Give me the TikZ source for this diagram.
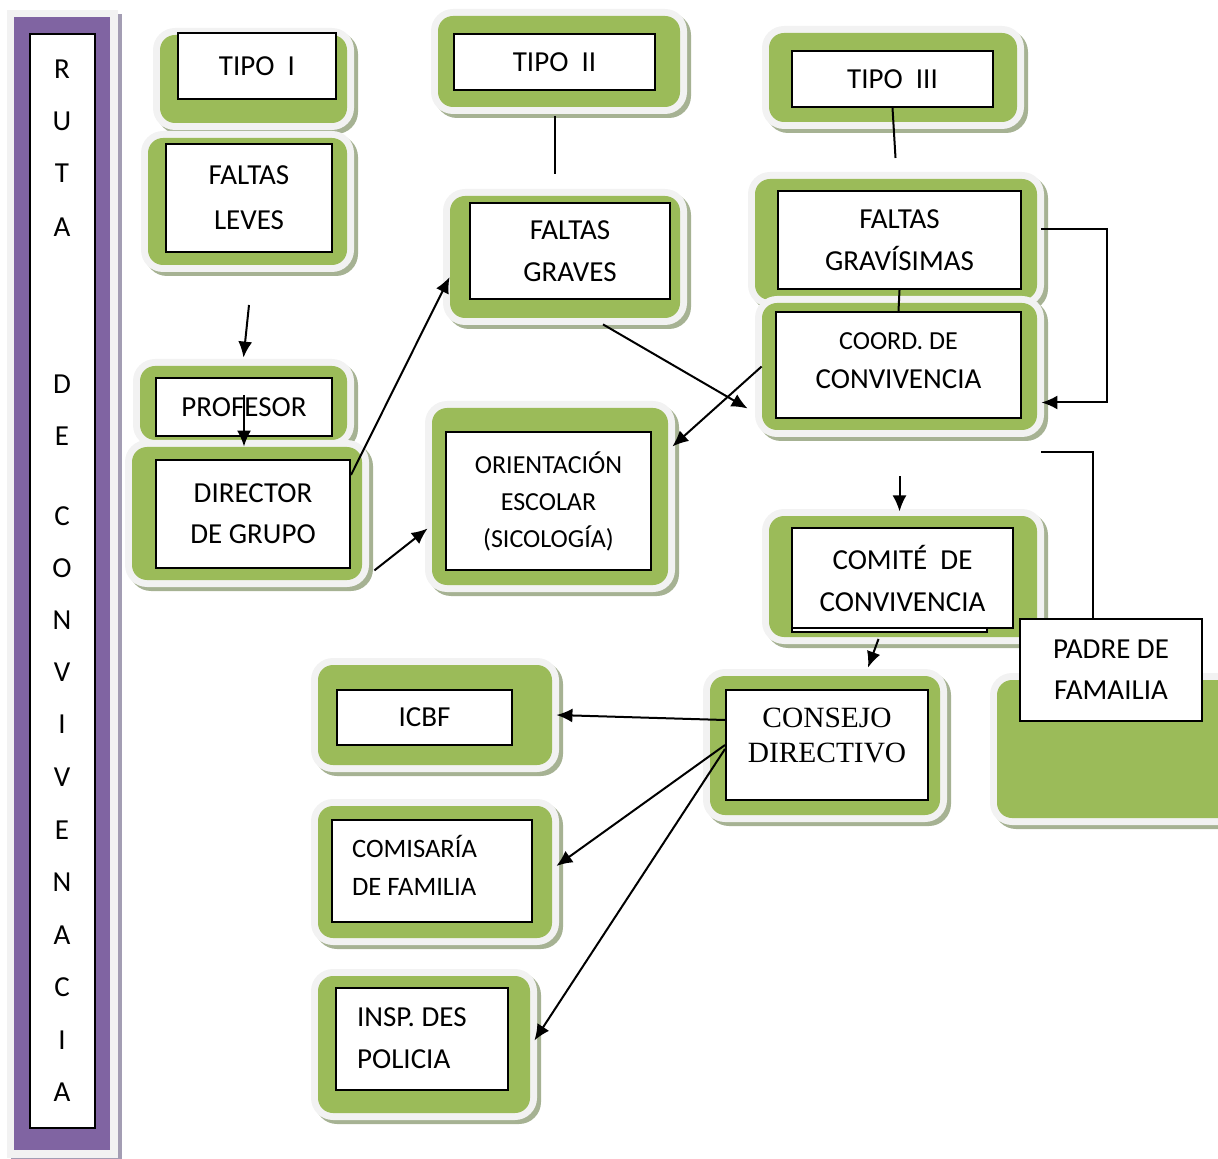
\documentclass[tikz,border=0pt]{standalone}
\usepackage{fontspec}
\setmainfont{Carlito}
\newfontfamily\serifface{Liberation Serif}
\usetikzlibrary{calc,fit,arrows.meta,positioning}
\definecolor{leafgreen}{HTML}{9BBB59}
\definecolor{rimgray}{HTML}{F2F2F2}
\definecolor{rimshadow}{HTML}{A6B293}
\definecolor{rutapurple}{HTML}{8064A2}
\definecolor{rutashadow}{HTML}{A39DB3}
\tikzset{
  greenpad/.style={fill=leafgreen, rounded corners=7.5pt, inner sep=0pt},
  wbox/.style 2 args={draw, fill=white, line width=1pt, inner sep=0pt, align=center,
    minimum width=#1, minimum height=#2, font=\fontsize{14.5}{21}\selectfont},
  letter/.style={inner sep=0pt, font=\fontsize{14.5}{17}\selectfont},
  arr/.style={-{Latex[length=8pt,width=7pt]}, line width=1pt},
  link/.style={line width=1pt},
}
% green panel with light rim and shadow: name, corner, corner
\newcommand{\panel}[3]{%
  \fill[rimshadow, rounded corners=11pt] ($(#2)+(-3,-3)$) rectangle ($(#3)+(11,11)$);
  \fill[rimgray, rounded corners=11pt] ($(#2)+(-7,-7)$) rectangle ($(#3)+(7,7)$);
  \node[greenpad, fit={(#2) (#3)}] (#1) {};
}
\begin{document}
\begin{tikzpicture}[x=0.5pt,y=-0.5pt]
\useasboundingbox (0,0) rectangle (1218,1159);
\clip (0,0) rectangle (1218,1159);

% left bar
\fill[rutashadow] (11,14) rectangle (122,1162);
\fill[rimgray] (7,10) rectangle (118,1158);
\fill[rutapurple] (14,17) rectangle (110,1150);
\node[wbox={32.5pt}{547pt}] (ruta) at (62.5,581) {};
\foreach \l/\y [count=\i] in {R/69,U/121,T/173,A/227,D/384,E/436,C/516,O/568,N/620,
    V/672,I/724,V/777,E/830,N/882,A/935,C/987,I/1040,A/1092}
  \node[letter] (ltr\i) at (62,\y) {\l};

% tipo I
\panel{gTipoI}{160,35}{347,123}
\node[wbox={79pt}{33pt}] (tipoI) at (257,66) {TIPO\ \ I};
\panel{gLeves}{148,138}{347,265}
\node[wbox={83pt}{54pt}, font=\fontsize{14.5}{22.5}\selectfont] (leves) at (249,198) {FALTAS\\LEVES};
\panel{gProfesor}{140,366}{347,440}
\node[wbox={88pt}{29pt}] (profesor) at (244,407) {PROFESOR};
\panel{gDirector}{132,447}{362,580}
\node[wbox={97pt}{54pt}, font=\fontsize{14.5}{20.5}\selectfont] (dirgrupo) at (253,514) {DIRECTOR\\DE GRUPO};

% tipo II
\panel{gTipoII}{438,16}{680,107}
\node[wbox={100.5pt}{28pt}] (tipoII) at (554.5,62) {TIPO\ \ II};
\panel{gGraves}{450,196}{680,318}
\node[wbox={100pt}{48pt}] (graves) at (570,251) {FALTAS\\GRAVES};
\panel{gOrient}{432,408}{668,585}
\node[wbox={102.5pt}{69pt}, font=\fontsize{13}{18.5}\selectfont] (orient) at (548.5,501) {ORIENTACIÓN\\ESCOLAR\\(SICOLOGÍA)};

% tipo III
\panel{gTipoIII}{769,33}{1017,122}
\node[wbox={100.5pt}{28pt}] (tipoIII) at (892.5,79) {TIPO\ \ III};
\panel{gGravisimas}{755,179}{1037,300}
\node[wbox={121.5pt}{49pt}] (gravisimas) at (899.5,240) {FALTAS\\GRAVÍSIMAS};
\panel{gCoord}{762,303}{1037,430}
\node[wbox={122.5pt}{53pt}, font=\fontsize{14.5}{19.5}\selectfont,
  label={[name=coordtxt, align=center, yshift=2pt, font=\fontsize{14.5}{19.5}\selectfont]center:{\fontsize{13}{19.5}\selectfont COORD. DE}\\CONVIVENCIA}] (coord) at (898.5,365) {};
\panel{gComite}{769,516}{1037,637}
\draw[fill=white, line width=1pt] (792,622) rectangle (987,632);
\node[wbox={110.5pt}{50pt}] (comite) at (902.5,578) {COMITÉ\ \ DE\\CONVIVENCIA};
\panel{gPadre}{997,680}{1240,818}
\node[wbox={91pt}{51pt}, font=\fontsize{14.5}{20.5}\selectfont] (padre) at (1111,670) {PADRE DE\\FAMAILIA};

% consejo and entities
\panel{gConsejo}{710,676}{940,815}
\node[wbox={101pt}{55pt},
  label={[name=consejotxt, align=center, yshift=5pt, font=\serifface\fontsize{14.7}{17.5}\selectfont]center:CONSEJO\\DIRECTIVO}] (consejo) at (827,745) {};
\panel{gIcbf}{318,665}{552,765}
\node[wbox={87.5pt}{27.5pt}] (icbf) at (424.5,717.5) {ICBF};
\panel{gComisaria}{318,806}{552,938}
\node[wbox={100pt}{51pt},
  label={[name=comisariatxt, anchor=west, align=left, xshift=7pt, yshift=3pt, font=\fontsize{13.3}{19}\selectfont]west:COMISARÍA\\DE FAMILIA}] (comisaria) at (432,871) {};
\panel{gInsp}{318,976}{530,1113}
\node[wbox={86pt}{51pt},
  label={[name=insptxt, anchor=west, align=left, xshift=7.5pt, yshift=0.5pt, font=\fontsize{14.5}{21}\selectfont]west:INSP. DES\\POLICIA}] (insp) at (422,1039) {};

% connectors
\draw[arr] ([yshift=-26pt]leves.south) -- ([yshift=4pt]gProfesor.north);
\draw[arr] ([yshift=6pt]profesor.center) -- (profesor.center |- gDirector.north);
\draw[arr] ([yshift=-8pt]dirgrupo.north east) -- ([yshift=-10pt]gGraves.west);
\draw[arr] ([shift={(6pt,5pt)}]gDirector.south east) -- ([shift={(-2pt,-16pt)}]gOrient.west);
\draw[link] (tipoII.south) ++(0,25) -- ++(0,58);
\draw[arr] ([shift={(19pt,-3pt)}]gGraves.south) -- ([shift={(-7pt,-21pt)}]gCoord.west);
\draw[arr] (gCoord.west) -- ([shift={(2pt,25pt)}]gOrient.east);
\draw[link] (tipoIII.south) -- ++(3,50);
\draw[link] (gravisimas.south) -- (coord.north);
\draw[arr] ([shift={(2pt,5pt)}]gGravisimas.east) -- ++(66,0) |- ([shift={(2pt,-18pt)}]gCoord.east);
\draw[link] ([shift={(2pt,-11pt)}]gCoord.south east) -| ([xshift=-9pt]padre.north);
\draw[arr] ([yshift=-23pt]gCoord.south) -- ++(0,35);
\draw[arr] ([shift={(-12pt,-5pt)}]comite.south) -- ([shift={(21.5pt,4pt)}]gConsejo.north);
\draw[arr] ([yshift=12.5pt]consejo.west) -- ([xshift=2pt]gIcbf.east);
\draw[arr] (consejo.west) -- ([shift={(2pt,3pt)}]gComisaria.east);
\draw[arr] ([yshift=-2pt]consejo.west) -- ([shift={(2pt,2pt)}]gInsp.east);
\end{tikzpicture}
\end{document}
